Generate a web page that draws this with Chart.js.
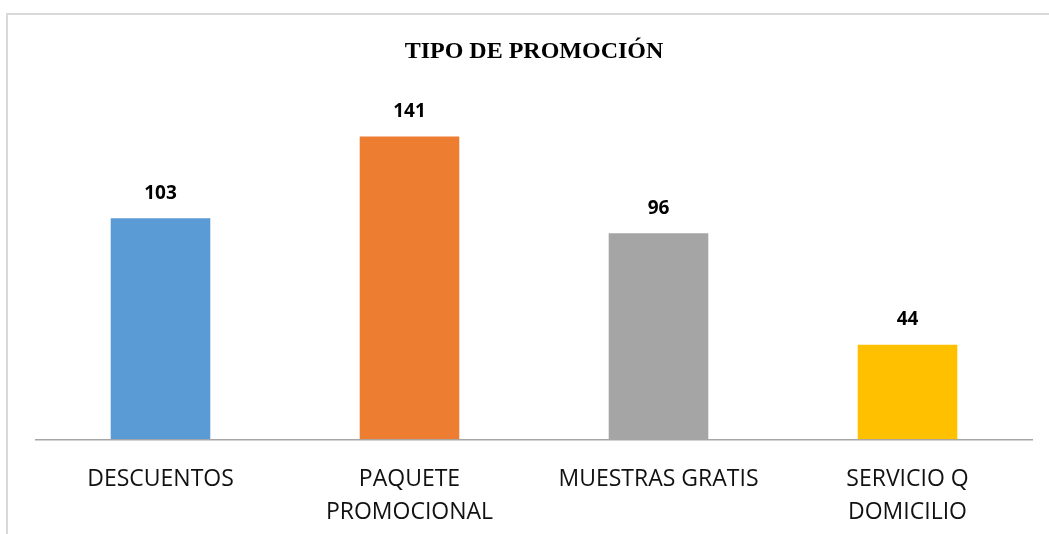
<!DOCTYPE html>
<html>
<head>
<meta charset="utf-8">
<script src="https://cdn.jsdelivr.net/npm/chart.js@4/dist/chart.umd.min.js"></script>
<style>
  body { margin: 0; background: #fff; overflow: hidden; }
  #wrap { width: 1049px; height: 534px; overflow: hidden; }
</style>
</head>
<body>
<div id="wrap"><canvas id="myChart" width="1049" height="552"></canvas></div>
<script>
    // data
    const categories = [
        ['DESCUENTOS'],
        ['PAQUETE', 'PROMOCIONAL'],
        ['MUESTRAS GRATIS'],
        ['SERVICIO Q', 'DOMICILIO']
    ];
    const values = [103, 141, 96, 44];
    const barColors = ['#5B9BD5', '#ED7D31', '#A5A5A5', '#FFC000'];
    const titleText = 'TIPO DE PROMOCIÓN';

    // light frame like the office chart border
    const framePlugin = {
        id: 'frame',
        beforeDraw(chart) {
            const ctx = chart.ctx;
            ctx.save();
            ctx.strokeStyle = '#d9d9d9';
            ctx.lineWidth = 2;
            ctx.beginPath();
            ctx.moveTo(7, chart.height + 5);
            ctx.lineTo(7, 14);
            ctx.lineTo(chart.width + 5, 14);
            ctx.stroke();
            ctx.restore();
        }
    };

    // value labels above each bar
    const valueLabels = {
        id: 'valueLabels',
        afterDatasetsDraw(chart) {
            const ctx = chart.ctx;
            const meta = chart.getDatasetMeta(0);
            ctx.save();
            ctx.font = 'bold 19px "Open Sans"';
            ctx.fillStyle = '#000';
            ctx.textAlign = 'center';
            ctx.textBaseline = 'middle';
            meta.data.forEach((bar, i) => {
                ctx.fillText(values[i], bar.x, bar.y - 25);
            });
            ctx.restore();
        }
    };

    const data = {
        labels: categories,
        datasets: [{
            data: values,
            backgroundColor: barColors,
            borderWidth: 0,
            categoryPercentage: 1,
            barPercentage: 0.4
        }]
    };

    const config = {
        type: 'bar',
        data: data,
        options: {
            responsive: false,
            animation: false,
            layout: {
                padding: { left: 36, right: 17, top: 37, bottom: 0 }
            },
            plugins: {
                legend: { display: false },
                tooltip: { enabled: false },
                title: {
                    display: true,
                    text: titleText,
                    color: '#000',
                    font: { family: '"Liberation Serif", "Times New Roman", serif', size: 24, weight: 'bold' },
                    padding: { top: 0, bottom: 30 }
                }
            },
            scales: {
                x: {
                    grid: { display: false, drawTicks: false },
                    border: { display: true, color: '#a6a6a6', width: 1.5 },
                    ticks: {
                        color: '#111',
                        padding: 23,
                        maxRotation: 0,
                        autoSkip: false,
                        font: { family: '"Open Sans"', size: 23, lineHeight: 1.45 }
                    }
                },
                y: {
                    display: false,
                    min: 0,
                    max: 160
                }
            }
        },
        plugins: [framePlugin, valueLabels]
    };

    const myChart = new Chart(document.getElementById('myChart'), config);
</script>
</body>
</html>
